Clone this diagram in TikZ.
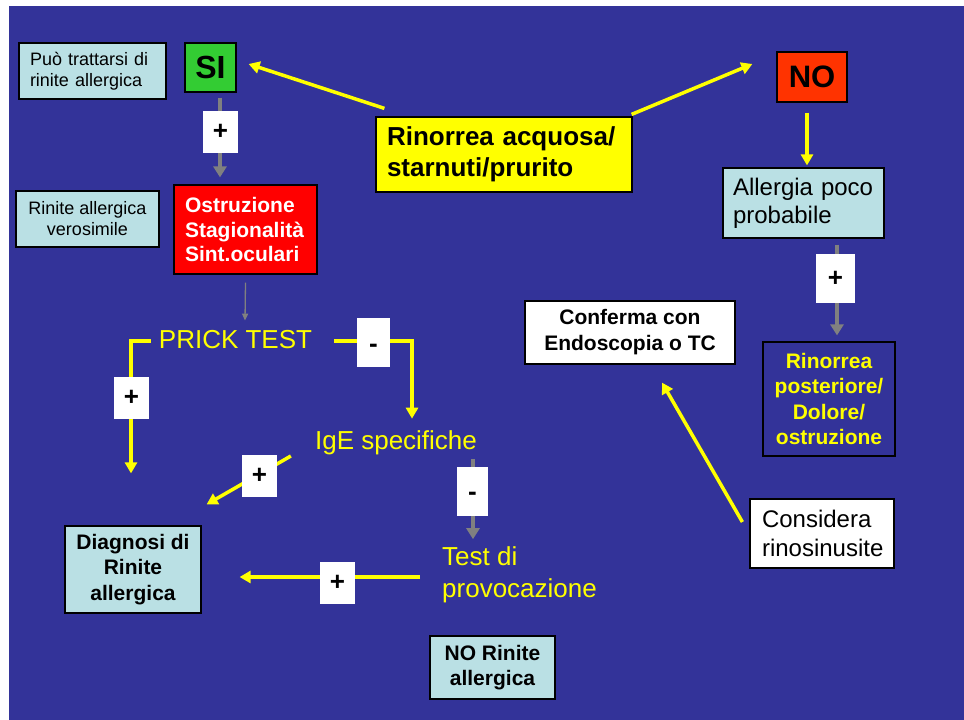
\documentclass[tikz,border=0pt]{standalone}
\usepackage{fontspec}
\setmainfont{Liberation Sans}
\usetikzlibrary{arrows.meta,calc}

\definecolor{slidebg}{RGB}{51,51,153}
\definecolor{paleblue}{RGB}{186,224,228}
\definecolor{sigreen}{RGB}{51,204,51}
\definecolor{nored}{RGB}{255,51,0}
\definecolor{hotred}{RGB}{255,0,0}
\definecolor{hiyellow}{RGB}{255,255,0}
\definecolor{flowgrey}{RGB}{128,128,128}

% a minus sign centred in its box
\newcommand{\negsign}[1]{\smash{\raisebox{#1}{-}}}

\begin{document}
\begin{tikzpicture}[x=1pt,y=-1pt,
  card/.style={draw=black, line width=1.2pt, inner ysep=0pt},
  pale/.style={card, fill=paleblue, text=black},
  signbox/.style={fill=white, text=black, inner sep=0pt, font=\fontsize{26}{30}\selectfont\bfseries},
  label/.style={text=hiyellow, inner sep=0pt, font=\fontsize{26}{32}\selectfont},
  yarrow/.style={draw=hiyellow, line width=3.5pt, -{Triangle[length=11pt,width=12pt]}},
  garrow/.style={draw=flowgrey, line width=4pt, -{Triangle[length=11pt,width=13pt]}},
  gthin/.style={draw=flowgrey, line width=1.3pt, -{Triangle[length=7pt,width=6pt]}}]

% page and slide background
\fill[white] (0,0) rectangle (964,720);
\useasboundingbox (0,0) rectangle (964,720);
\fill[slidebg] (9,6) rectangle (964,720);

% boxes
\node[pale, minimum width=147pt, minimum height=56pt, inner xsep=11pt, text width=125pt, align=left,
  font=\fontsize{18}{21}\selectfont] (puo) at (92.5,71) {Può trattarsi di\\rinite allergica};
\node[card, fill=sigreen, minimum width=51pt, minimum height=49pt, inner xsep=0pt,
  font=\fontsize{32}{36}\selectfont\bfseries] (si) at (210.5,67.5) {SI};
\node[pale, minimum width=143pt, minimum height=56pt, inner xsep=0pt, align=center,
  font=\fontsize{18}{21}\selectfont] (veros) at (87.5,219) {Rinite allergica\\verosimile};
\node[card, fill=hotred, text=white, minimum width=143pt, minimum height=89pt, inner xsep=11pt,
  text width=121pt, align=left, font=\fontsize{21}{24.5}\selectfont\bfseries] (sint) at (245.5,229.5)
  {Ostruzione\\Stagionalità\\Sint.oculari};
\node[card, fill=hiyellow, minimum width=256pt, minimum height=75pt, inner xsep=11pt,
  text width=234pt, align=left, font=\fontsize{26}{31}\selectfont\bfseries] (rin) at (504,154.5)
  {Rinorrea acquosa/\\starnuti/prurito};
\node[card, fill=nored, minimum width=70pt, minimum height=50pt, inner xsep=0pt,
  font=\fontsize{31}{36}\selectfont\bfseries] (no) at (812,77) {NO};
\node[pale, minimum width=161pt, minimum height=70pt, inner xsep=10pt, text width=141pt, align=left,
  font=\fontsize{24}{28}\selectfont] (poco) at (803.5,203) {Allergia poco\\probabile};
\node[card, fill=slidebg, text=hiyellow, minimum width=132pt, minimum height=114pt, inner xsep=0pt,
  align=center, font=\fontsize{21}{25.5}\selectfont\bfseries] (post) at (829,399)
  {Rinorrea\\posteriore/\\Dolore/\\ostruzione};
\node[card, fill=white, minimum width=210pt, minimum height=63pt, inner xsep=0pt, align=center,
  font=\fontsize{21}{26}\selectfont\bfseries] (endo) at (630,332.5) {Conferma con\\Endoscopia o TC};
\node[card, fill=white, minimum width=144pt, minimum height=69pt, inner xsep=12pt, text width=120pt,
  align=left, font=\fontsize{24}{29}\selectfont] (sinus) at (822,533.5) {Considera\\rinosinusite};
\node[pale, minimum width=136pt, minimum height=87pt, inner xsep=0pt, align=center,
  font=\fontsize{21}{25.5}\selectfont\bfseries] (diag) at (133,569.5) {Diagnosi di\\Rinite\\allergica};
\node[pale, minimum width=125pt, minimum height=63pt, inner xsep=0pt, align=center,
  font=\fontsize{21}{25}\selectfont\bfseries] (norin) at (492.5,667.5) {NO Rinite\\allergica};

% free-standing labels
\node[label] (prick) at (235.5,340) {PRICK TEST};
\node[label] (ige) at (396,443) {IgE specifiche};
\node[label, anchor=west, align=left] (prov) at (442,574.5) {Test di\\provocazione};

% connectors
\draw[yarrow] ($(rin.north west)+(9,-8)$) -- ($(si.east)+(12,-3.5)$);
\draw[yarrow] ($(rin.north east)+(-1,-2)$) -- ($(no.west)+(-24,-13)$);
\draw[yarrow] ($(no.south)+(-5,10)$) -- ($(poco.north)+(3.5,-2)$);
\draw[garrow] ($(si.south)+(9.5,5)$) -- ($(sint.north)+(-25.5,-7)$);
\draw[garrow] ($(poco.south)+(33.5,6)$) -- ($(post.north)+(8,-6)$);
\draw[gthin] ($(sint.south)+(0,8)$) -- ($(prick.north)+(9.5,-10)$);
\draw[yarrow] ($(prick.west)+(-8,1)$) -| ($(diag.north)+(-2,-52)$);
\draw[yarrow] ($(prick.east)+(22,1)$) -| ($(ige.north)+(16,-12)$);
\draw[yarrow] ($(ige.west)+(-24,13)$) -- ($(diag.north east)+(5,-21)$);
\draw[garrow] ($(ige.south)+(77,3.5)$) -- ($(prov.north west)+(31,-7)$);
\draw[yarrow] ($(prov.west)+(-22,2.5)$) -- ($(diag.east)+(38,7.5)$);
\draw[yarrow] ($(sinus.west)+(-7,-11.5)$) -- ($(endo.south)+(32,18)$);

% outcome signs on the connectors
\node[signbox, minimum width=35pt, minimum height=42pt] (s1) at (220.5,132) {+};
\node[signbox, minimum width=39pt, minimum height=49pt] (s2) at (835.5,278.5) {+};
\node[signbox, minimum width=33pt, minimum height=49pt] (s3) at (373.5,342.5) {\negsign{-9.5pt}};
\node[signbox, minimum width=35pt, minimum height=42pt] (s4) at (131.5,398) {+};
\node[signbox, minimum width=35pt, minimum height=42pt] (s5) at (259.5,476) {+};
\node[signbox, minimum width=31pt, minimum height=49pt] (s6) at (472.5,491.5) {\negsign{-8.5pt}};
\node[signbox, minimum width=35pt, minimum height=42pt] (s7) at (337.5,583) {+};
\end{tikzpicture}
\end{document}
